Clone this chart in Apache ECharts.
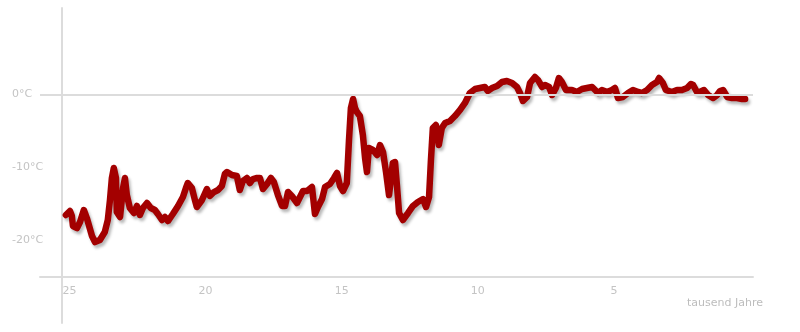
<!DOCTYPE html>
<html>
<head>
<meta charset="utf-8">
<script src="https://cdn.jsdelivr.net/npm/echarts@6/dist/echarts.min.js"></script>
<style>
html,body{margin:0;padding:0;background:#fff;}
#chart{width:800px;height:332px;}
</style>
</head>
<body>
<div id="chart"></div>
<script>
// thousand years before present
var years = [25.13,24.98,24.91,24.87,24.72,24.61,24.47,24.36,24.17,24.06,23.88,23.70,23.59,23.51,23.44,23.37,23.29,23.26,23.14,23.03,22.96,22.89,22.78,22.63,22.52,22.41,22.30,22.15,22.01,21.86,21.75,21.60,21.49,21.38,21.20,21.01,20.83,20.72,20.65,20.50,20.39,20.32,20.13,19.95,19.84,19.69,19.54,19.40,19.29,19.21,19.03,18.85,18.74,18.63,18.48,18.37,18.26,18.11,18.00,17.89,17.74,17.60,17.49,17.34,17.19,17.08,16.97,16.83,16.64,16.42,16.27,16.09,15.98,15.87,15.72,15.61,15.43,15.28,15.17,15.06,14.95,14.81,14.73,14.66,14.58,14.51,14.44,14.33,14.22,14.14,14.07,14.00,13.85,13.70,13.59,13.48,13.37,13.26,13.12,13.04,12.97,12.89,12.75,12.56,12.38,12.20,12.01,11.90,11.79,11.72,11.65,11.54,11.43,11.32,11.20,11.02,10.84,10.65,10.47,10.29,10.10,9.92,9.74,9.63,9.48,9.29,9.11,8.93,8.74,8.56,8.45,8.34,8.19,8.08,7.90,7.79,7.64,7.53,7.38,7.27,7.13,7.02,6.91,6.76,6.54,6.36,6.17,5.99,5.80,5.69,5.58,5.44,5.25,5.07,4.96,4.85,4.67,4.48,4.30,4.11,3.97,3.78,3.60,3.42,3.34,3.20,3.09,2.87,2.68,2.50,2.31,2.17,2.09,1.95,1.84,1.69,1.54,1.36,1.21,1.10,0.99,0.84,0.66,0.48,0.29,0.18];
// temperature in °C
var temps = [-16.51,-15.96,-16.64,-18.01,-18.29,-17.47,-15.82,-16.92,-19.38,-20.21,-19.93,-18.84,-17.19,-14.45,-11.44,-10.07,-11.44,-16.10,-16.78,-12.81,-11.44,-13.77,-15.55,-16.23,-15.27,-16.51,-15.55,-14.86,-15.55,-15.82,-16.37,-17.19,-16.78,-17.33,-16.37,-15.27,-14.04,-12.81,-12.12,-12.81,-14.45,-15.41,-14.45,-12.95,-13.90,-13.36,-13.08,-12.53,-10.89,-10.62,-11.03,-11.16,-13.08,-11.85,-11.44,-12.12,-11.58,-11.44,-11.44,-12.95,-12.26,-11.44,-11.99,-13.77,-15.27,-15.27,-13.36,-13.90,-14.86,-13.22,-13.22,-12.67,-16.37,-15.41,-14.32,-12.67,-12.26,-11.44,-10.75,-12.53,-13.22,-12.12,-6.23,-1.85,-0.62,-1.85,-2.40,-2.95,-5.55,-8.70,-10.62,-7.33,-7.60,-8.29,-6.92,-7.88,-10.62,-13.77,-9.38,-9.25,-12.40,-16.23,-17.19,-16.23,-15.27,-14.73,-14.32,-15.41,-14.04,-8.97,-4.59,-4.18,-6.92,-4.59,-3.90,-3.63,-2.95,-2.12,-1.16,0.21,0.75,0.89,1.03,0.48,0.89,1.16,1.71,1.85,1.58,1.03,0.21,-0.89,-0.34,1.58,2.40,1.99,1.03,1.30,1.03,-0.07,0.89,2.26,1.71,0.62,0.62,0.34,0.75,0.89,1.03,0.62,0.21,0.62,0.34,0.62,0.89,-0.48,-0.34,0.21,0.62,0.34,0.21,0.62,1.30,1.71,2.26,1.58,0.62,0.34,0.62,0.62,0.89,1.44,1.30,0.34,0.34,0.62,-0.07,-0.48,-0.07,0.48,0.62,-0.34,-0.48,-0.48,-0.62,-0.62];
var xTicks = [25, 20, 15, 10, 5];
var yTicks = [0, -10, -20];
var axisTitle = 'tausend Jahre';

var data = years.map(function (y, i) { return [y, temps[i]]; });
var font = 'DejaVu Sans, Verdana, sans-serif';
var grey = '#dcdcdc';

var chart = echarts.init(document.getElementById('chart'), null, {renderer: 'canvas'});
chart.setOption({
  animation: false,
  backgroundColor: '#fff',
  title: {
    text: axisTitle,
    right: 32,
    top: 293,
    textStyle: {color: '#bdbdbd', fontSize: 11, fontWeight: 'normal', fontFamily: font}
  },
  grid: {left: 40, right: 47, top: 8, bottom: 9, containLabel: false},
  xAxis: {
    type: 'value',
    inverse: true,
    min: -0.11,
    max: 26.08,
    offset: -46,
    axisLine: {show: true, onZero: false, lineStyle: {color: grey, width: 2}},
    axisTick: {show: false},
    splitLine: {show: false},
    axisLabel: {
      customValues: xTicks,
      color: '#c4c4c4', fontSize: 11, fontFamily: font, margin: 9
    }
  },
  yAxis: {
    type: 'value',
    min: -31.30,
    max: 11.85,
    offset: -22,
    axisLine: {show: true, onZero: false, lineStyle: {color: grey, width: 2}},
    axisTick: {show: false},
    splitLine: {show: false},
    axisLabel: {
      customValues: yTicks,
      formatter: '{value}°C',
      align: 'left',
      margin: 50,
      color: '#c4c4c4', fontSize: 11, fontFamily: font
    }
  },
  series: [
    {
      type: 'line',
      data: [],
      z: 1,
      silent: true,
      markLine: {
        silent: true,
        symbol: ['none', 'none'],
        label: {show: false},
        lineStyle: {color: grey, width: 2, type: 'solid'},
        data: [{yAxis: 0}]
      }
    },
    {
      type: 'line',
      data: data,
      z: 3,
      showSymbol: false,
      smooth: false,
      lineStyle: {
        color: '#a30000',
        width: 6.5,
        cap: 'round',
        join: 'round',
        shadowColor: 'rgba(0,0,0,0.28)',
        shadowBlur: 3,
        shadowOffsetX: 2,
        shadowOffsetY: 3
      }
    }
  ]
});
</script>
</body>
</html>
